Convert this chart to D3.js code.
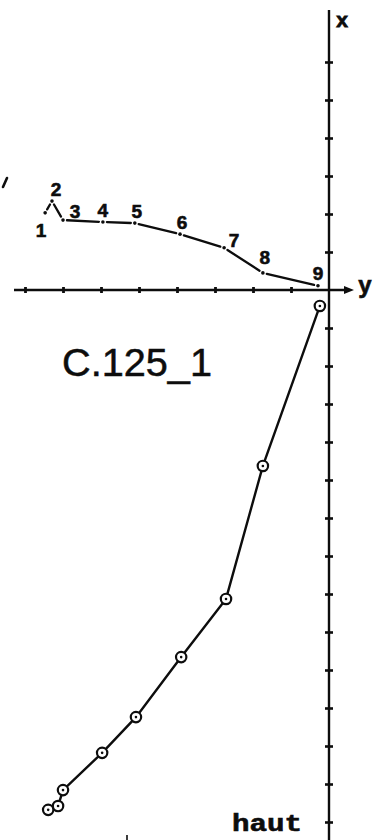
<!DOCTYPE html>
<html>
<head>
<meta charset="utf-8">
<script src="https://cdn.jsdelivr.net/npm/d3@7/dist/d3.min.js"></script>
<style>
  html, body { margin: 0; padding: 0; background: #fff; }
  svg { display: block; }
</style>
</head>
<body>
<svg id="chart" width="374" height="840"></svg>
<script>
// Demagnetisation steps of specimen C.125_1 (orthogonal projection, units = axis divisions)
const steps = ["1", "2", "3", "4", "5", "6", "7", "8", "9"];

// Projection on the horizontal plane: y component (abscissa) and x component (upward)
const horizY = [-7.47, -7.29, -7.00, -5.95, -5.11, -3.92, -2.76, -1.74, -0.29];
const horizX = [2.03, 2.34, 1.84, 1.79, 1.76, 1.47, 1.11, 0.45, 0.11];

// Projection on the vertical plane: y component and vertical component (drawn downward, "haut")
const vertY = [-7.39, -7.13, -7.00, -5.97, -5.08, -3.89, -2.71, -1.74, -0.24];
const vertZ = [13.68, 13.58, 13.16, 12.18, 11.24, 9.66, 8.13, 4.63, 0.42];

// Axis graduations
const yTicks = [-8, -7, -6, -5, -4, -3, -2, -1];
const xTicks = [1, 2, 3, 4, 5, 6];
const zTicks = [1, 2, 3, 4, 5, 6, 7, 8, 9, 10, 11, 12, 13, 14];

// Placement of step numbers next to their points (pixels)
const labelDx = [-4, 4, 12, 0, 2, 2, 10, 2, 0];
const labelDy = [18, -12, -9, -11, -12, -12, -7, -15, -12];

const svg = d3.select("#chart");
const ink = "#0d0d0d";

const sx = d3.scaleLinear().domain([-8, 0]).range([25, 329]);
const sUp = d3.scaleLinear().domain([0, 6]).range([290, 62]);
const sDown = d3.scaleLinear().domain([0, 14]).range([290, 822]);

const ox = sx(0), oy = sUp(0);

// ---- axes ----
const axes = svg.append("g").attr("stroke", ink).attr("fill", "none");
axes.append("line").attr("x1", 14).attr("x2", 349).attr("y1", oy).attr("y2", oy)
  .attr("stroke-width", 2.6);
axes.append("path")
  .attr("d", `M${354},${oy} L${344},${oy - 4} L${344},${oy + 4} Z`)
  .attr("fill", ink).attr("stroke", "none");
axes.append("line").attr("x1", ox).attr("x2", ox).attr("y1", 10).attr("y2", 840)
  .attr("stroke-width", 2.4);

const gY = svg.append("g").attr("transform", `translate(0,${oy})`)
  .call(d3.axisBottom(sx).tickValues(yTicks).tickSize(3).tickFormat(""));
gY.select(".domain").remove();
gY.selectAll(".tick line").attr("y1", -3).attr("y2", 3).attr("stroke", ink).attr("stroke-width", 2.8);

const gX = svg.append("g").attr("transform", `translate(${ox},0)`)
  .call(d3.axisLeft(sUp).tickValues(xTicks).tickSize(4).tickFormat(""));
gX.select(".domain").remove();
gX.selectAll(".tick line").attr("x1", -4).attr("x2", 4).attr("stroke", ink).attr("stroke-width", 2.6);

const gZ = svg.append("g").attr("transform", `translate(${ox},0)`)
  .call(d3.axisLeft(sDown).tickValues(zTicks).tickSize(4).tickFormat(""));
gZ.select(".domain").remove();
gZ.selectAll(".tick line").attr("x1", -4).attr("x2", 4).attr("stroke", ink).attr("stroke-width", 2.6);

// axis names
svg.append("text").attr("x", 342).attr("y", 27).attr("text-anchor", "middle")
  .attr("font-family", "Liberation Sans, Arial, sans-serif").attr("font-weight", "bold")
  .attr("font-size", 21).attr("fill", ink).attr("stroke", ink).attr("stroke-width", 0.8)
  .text("x");
svg.append("text").attr("x", 365).attr("y", 293).attr("text-anchor", "middle")
  .attr("font-family", "Liberation Sans, Arial, sans-serif").attr("font-weight", "bold")
  .attr("font-size", 24).attr("fill", ink).attr("stroke", ink).attr("stroke-width", 0.6)
  .text("y");
svg.append("text").attr("x", 232).attr("y", 831)
  .attr("font-family", "Liberation Mono, Courier New, monospace").attr("font-weight", "bold")
  .attr("font-size", 24).attr("textLength", 70).attr("lengthAdjust", "spacingAndGlyphs")
  .attr("fill", ink).attr("stroke", ink).attr("stroke-width", 0.6).text("haut");

// edge marks
svg.append("line").attr("x1", 3).attr("y1", 187).attr("x2", 7).attr("y2", 178)
  .attr("stroke", ink).attr("stroke-width", 2.6).attr("stroke-linecap", "round");
svg.append("line").attr("x1", 127).attr("x2", 127).attr("y1", 835).attr("y2", 840)
  .attr("stroke", ink).attr("stroke-width", 1.6);

// specimen name
svg.append("text").attr("x", 62).attr("y", 376)
  .attr("font-family", "Liberation Sans, Arial, sans-serif")
  .attr("font-size", 38).attr("textLength", 150).attr("lengthAdjust", "spacingAndGlyphs")
  .attr("fill", ink).attr("stroke", ink).attr("stroke-width", 0.5).text("C.125_1");

// ---- horizontal-plane projection: dash segments between dotted steps ----
const hPts = steps.map((s, i) => ({ s, x: sx(horizY[i]), y: sUp(horizX[i]), i }));
const gap = 4;
const hSegs = d3.pairs(hPts).map(([a, b]) => {
  const dx = b.x - a.x, dy = b.y - a.y, L = Math.hypot(dx, dy);
  const g = Math.min(gap, L * 0.3);
  return { x1: a.x + dx / L * g, y1: a.y + dy / L * g, x2: b.x - dx / L * g, y2: b.y - dy / L * g };
});
const hg = svg.append("g");
hg.selectAll("line.seg").data(hSegs).join("line").attr("class", "seg")
  .attr("x1", d => d.x1).attr("y1", d => d.y1).attr("x2", d => d.x2).attr("y2", d => d.y2)
  .attr("stroke", ink).attr("stroke-width", 2.3).attr("stroke-linecap", "round");
hg.selectAll("circle").data(hPts).join("circle")
  .attr("cx", d => d.x).attr("cy", d => d.y).attr("r", 1.8).attr("fill", ink);
hg.selectAll("text").data(hPts).join("text")
  .attr("x", d => d.x + labelDx[d.i]).attr("y", d => d.y + labelDy[d.i])
  .attr("text-anchor", "middle").attr("dominant-baseline", "central")
  .attr("font-family", "Liberation Sans, Arial, sans-serif").attr("font-weight", "bold")
  .attr("font-size", 19).attr("fill", ink).attr("stroke", ink).attr("stroke-width", 0.6)
  .text(d => d.s);

// ---- vertical-plane projection: solid line with open circles ----
const vPts = steps.map((s, i) => ({ s, x: sx(vertY[i]), y: sDown(vertZ[i]) }));
const vg = svg.append("g");
vg.append("path").datum(vPts)
  .attr("d", d3.line().x(d => d.x).y(d => d.y))
  .attr("fill", "none").attr("stroke", ink).attr("stroke-width", 2.4);
vg.selectAll("circle.ring").data(vPts).join("circle").attr("class", "ring")
  .attr("cx", d => d.x).attr("cy", d => d.y).attr("r", 5.2)
  .attr("fill", "#fff").attr("stroke", ink).attr("stroke-width", 2.2);
vg.selectAll("circle.ctr").data(vPts).join("circle").attr("class", "ctr")
  .attr("cx", d => d.x).attr("cy", d => d.y).attr("r", 1.3).attr("fill", ink);
</script>
</body>
</html>
